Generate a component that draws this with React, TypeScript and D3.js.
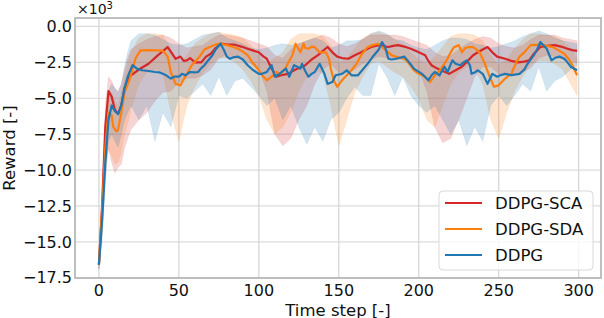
import React from "react"
import * as d3 from "d3"

// reward in units of 1e3
const scaSteps = [0, 2, 4, 6, 8, 10, 12, 14, 16, 19, 25, 31, 37, 43, 48, 51, 53, 55, 57, 60, 64, 67, 70, 73, 76, 80, 85, 89, 93, 97, 100, 103, 105, 108, 111, 114, 118, 123, 129, 133, 137, 140, 143, 146, 149, 152, 156, 160, 164, 168, 171, 175, 177, 181, 184, 187, 191, 195, 199, 204, 206, 208, 211, 214, 219, 223, 227, 231, 234, 237, 240, 243, 246, 249, 254, 258, 262, 266, 269, 272, 276, 280, 285, 289, 293, 296, 299]
const scaReward = [-16.6, -12.5, -7.0, -4.5, -4.9, -5.8, -6.1, -5.5, -4.3, -3.5, -3.0, -2.6, -2.0, -1.44, -2.25, -2.1, -2.4, -2.36, -2.2, -2.5, -2.5, -2.1, -1.9, -1.5, -1.2, -1.25, -1.27, -1.4, -1.55, -1.7, -1.8, -2.1, -2.25, -2.94, -3.5, -3.4, -3.3, -3.0, -2.7, -2.3, -2.0, -1.7, -1.43, -1.8, -2.1, -2.2, -2.25, -2.0, -1.8, -1.55, -1.4, -1.3, -1.35, -1.43, -1.35, -1.3, -1.4, -1.55, -1.75, -2.0, -2.4, -2.7, -2.9, -3.05, -3.3, -3.05, -2.8, -2.36, -2.0, -1.8, -1.6, -1.43, -1.8, -2.1, -2.25, -2.4, -2.5, -2.45, -2.36, -1.9, -1.43, -1.35, -1.3, -1.4, -1.55, -1.65, -1.7]

const sdaSteps = [0, 2, 4, 6, 8, 9, 11, 12, 14, 16, 19, 21, 23, 26, 30, 35, 39, 41, 43, 45, 48, 51, 54, 58, 63, 66, 69, 73, 76, 80, 83, 87, 90, 93, 96, 100, 102, 105, 108, 111, 113, 116, 118, 121, 123, 125, 126, 128, 129, 131, 133, 135, 138, 142, 144, 145, 147, 149, 152, 155, 158, 161, 164, 166, 168, 171, 175, 177, 180, 183, 187, 191, 194, 197, 200, 204, 207, 210, 212, 214, 216, 218, 220, 222, 225, 227, 229, 231, 234, 236, 238, 241, 244, 247, 250, 254, 258, 259, 261, 263, 266, 270, 276, 284, 288, 291, 294, 296, 299]
const sdaReward = [-16.6, -12.8, -8.5, -6.0, -6.2, -7.0, -7.3, -7.2, -6.0, -4.6, -3.75, -3.0, -2.2, -1.67, -1.65, -1.67, -1.67, -1.8, -2.1, -3.2, -4.0, -4.1, -3.5, -2.7, -2.1, -1.6, -1.44, -1.25, -1.2, -1.3, -1.4, -1.55, -1.75, -2.0, -2.5, -3.05, -3.4, -3.75, -3.5, -3.17, -3.3, -3.05, -2.6, -2.0, -1.2, -1.6, -1.8, -1.2, -1.5, -1.55, -1.4, -1.44, -1.8, -1.8, -2.3, -2.94, -3.8, -4.2, -3.75, -3.4, -3.05, -2.6, -2.0, -1.7, -1.44, -1.3, -1.2, -1.44, -1.7, -2.0, -2.15, -2.25, -2.6, -3.05, -3.3, -3.5, -3.87, -3.4, -3.2, -2.94, -2.6, -2.25, -1.8, -1.44, -1.3, -1.8, -1.5, -1.44, -1.44, -1.6, -1.8, -2.5, -3.4, -4.2, -4.1, -3.63, -3.3, -3.0, -2.5, -2.1, -1.8, -1.3, -1.27, -1.44, -1.7, -1.9, -2.3, -2.7, -3.4]

const ddpgSteps = [0, 2, 4, 6, 8, 10, 12, 14, 16, 18, 21, 24, 27, 31, 35, 38, 40, 42, 45, 47, 50, 52, 54, 57, 60, 62, 64, 66, 68, 71, 73, 76, 78, 80, 82, 84, 87, 90, 93, 96, 100, 102, 105, 108, 110, 113, 115, 117, 119, 122, 124, 126, 127, 129, 131, 133, 135, 138, 141, 143, 146, 148, 152, 155, 158, 162, 165, 168, 172, 175, 177, 179, 181, 183, 186, 191, 194, 197, 202, 206, 208, 210, 213, 216, 218, 221, 223, 226, 228, 230, 232, 233, 235, 237, 240, 243, 246, 249, 251, 254, 258, 260, 263, 266, 268, 272, 274, 276, 280, 283, 285, 288, 291, 293, 295, 299]
const ddpgReward = [-16.6, -13.5, -9.5, -6.5, -5.5, -5.9, -6.1, -5.5, -4.3, -3.5, -2.7, -2.95, -3.05, -3.1, -3.17, -3.2, -3.3, -3.4, -3.63, -3.5, -3.5, -3.3, -3.4, -3.17, -3.2, -3.17, -2.9, -2.7, -2.4, -2.0, -1.6, -1.2, -1.6, -2.1, -2.25, -2.15, -2.1, -2.3, -2.7, -3.0, -3.3, -3.3, -3.17, -2.7, -3.5, -3.3, -3.1, -2.94, -3.5, -2.7, -2.8, -2.94, -2.6, -3.1, -3.5, -3.3, -3.17, -2.6, -3.3, -4.0, -3.87, -3.4, -3.3, -3.05, -3.4, -3.4, -3.0, -2.6, -2.0, -1.6, -1.09, -1.44, -2.25, -2.3, -2.25, -2.1, -2.5, -2.94, -3.3, -3.75, -3.4, -3.17, -3.4, -2.8, -3.17, -2.36, -2.6, -2.7, -2.5, -2.36, -2.7, -3.3, -3.2, -3.05, -3.3, -4.0, -3.3, -3.5, -3.4, -3.3, -3.4, -3.35, -3.3, -3.0, -2.6, -2.0, -1.6, -1.09, -1.55, -2.36, -2.2, -2.1, -2.25, -2.5, -2.8, -3.05]

// spread bands (upper / lower envelope)
const bandSteps = [0, 2, 4, 6, 8, 10, 12, 14, 16, 18, 20, 25, 30, 35, 40, 45, 50, 55, 60, 65, 70, 75, 80, 85, 90, 95, 100, 105, 110, 115, 120, 125, 130, 135, 140, 145, 150, 155, 160, 165, 170, 175, 180, 185, 190, 195, 200, 205, 210, 215, 220, 225, 230, 235, 240, 245, 250, 255, 260, 265, 270, 275, 280, 285, 290, 295, 299]
const scaUpper = [-16.3, -11.5, -5.5, -3.5, -3.8, -4.3, -4.5, -4.0, -3.0, -2.2, -1.6, -1.2, -0.9, -0.7, -0.6, -0.8, -1.2, -1.5, -1.4, -1.3, -0.9, -0.6, -0.6, -0.7, -0.8, -1.0, -1.2, -1.4, -2.0, -2.2, -1.6, -1.2, -1.0, -0.8, -0.6, -0.8, -1.2, -1.4, -1.2, -0.9, -0.6, -0.6, -0.6, -0.6, -0.7, -0.9, -1.1, -1.3, -1.8, -2.1, -2.0, -1.6, -1.2, -0.9, -0.7, -0.8, -1.2, -1.4, -1.5, -1.3, -0.9, -0.6, -0.6, -0.6, -0.8, -0.9, -1.0]
const scaLower = [-16.9, -14.0, -9.5, -8.5, -9.5, -10.2, -9.8, -9.6, -8.5, -7.8, -7.2, -6.5, -6.0, -5.2, -4.6, -4.5, -3.9, -3.6, -3.6, -3.4, -3.0, -2.2, -2.0, -2.2, -2.3, -2.6, -3.0, -4.5, -7.5, -8.3, -7.8, -6.5, -5.5, -4.0, -3.0, -2.6, -3.2, -3.2, -3.0, -2.6, -2.3, -2.1, -2.2, -2.2, -2.3, -2.6, -3.0, -4.5, -7.0, -8.1, -7.8, -6.5, -5.0, -3.5, -2.8, -2.8, -3.3, -3.4, -3.3, -3.2, -2.9, -2.2, -2.0, -2.1, -2.3, -2.5, -2.5]
const sdaUpper = [-16.3, -11.5, -6.5, -4.5, -4.6, -5.2, -5.5, -4.6, -3.5, -2.5, -1.8, -0.8, -0.5, -0.5, -0.6, -1.5, -2.6, -2.0, -1.2, -0.8, -0.5, -0.4, -0.5, -0.6, -0.8, -1.3, -2.0, -2.6, -2.2, -1.8, -0.9, -0.5, -0.5, -0.5, -0.7, -1.3, -2.6, -2.2, -1.5, -0.8, -0.5, -0.4, -0.6, -0.9, -1.2, -1.8, -2.3, -2.6, -2.1, -1.4, -0.7, -0.5, -0.5, -0.6, -1.0, -2.0, -2.7, -2.3, -1.5, -0.9, -0.5, -0.5, -0.6, -0.7, -1.0, -1.5, -2.2]
const sdaLower = [-16.9, -14.5, -10.5, -8.5, -9.0, -9.6, -9.5, -8.8, -7.5, -6.8, -5.8, -4.0, -3.2, -3.0, -3.3, -6.0, -8.0, -5.5, -4.2, -3.2, -2.6, -2.2, -2.2, -2.5, -3.0, -3.8, -4.8, -6.5, -7.5, -7.0, -6.0, -4.5, -3.5, -3.0, -3.3, -5.5, -8.3, -6.5, -4.6, -3.5, -2.6, -2.4, -2.8, -3.2, -3.5, -4.2, -5.0, -6.5, -7.0, -5.5, -4.0, -3.2, -2.8, -3.0, -4.0, -6.5, -7.8, -6.0, -4.5, -3.5, -2.6, -2.4, -2.4, -2.6, -3.0, -4.0, -4.8]
const ddpgUpper = [-16.3, -12.5, -7.0, -4.5, -4.0, -4.3, -4.6, -4.0, -2.8, -1.8, -1.0, -0.5, -0.5, -0.6, -0.9, -1.2, -1.3, -1.2, -0.9, -0.6, -0.5, -0.4, -0.8, -1.0, -1.2, -1.5, -1.6, -1.5, -1.3, -1.2, -1.3, -1.2, -1.0, -0.8, -1.0, -1.5, -1.3, -1.0, -1.0, -0.9, -0.5, -0.3, -0.5, -0.9, -1.0, -1.3, -1.5, -1.6, -1.3, -1.0, -0.8, -0.8, -0.9, -1.2, -1.3, -1.5, -1.4, -1.2, -1.0, -0.7, -0.5, -0.3, -0.5, -0.8, -1.0, -1.1, -1.2]
const ddpgLower = [-16.9, -15.0, -11.0, -8.0, -7.5, -8.0, -8.4, -7.5, -6.5, -6.0, -5.5, -6.5, -5.5, -8.0, -6.0, -7.0, -4.8, -5.0, -4.5, -4.0, -4.8, -3.5, -4.8, -3.8, -3.6, -4.2, -4.8, -5.5, -5.0, -6.5, -5.5, -7.0, -8.2, -7.0, -8.0, -6.5, -6.0, -5.0, -4.2, -4.8, -4.8, -2.6, -3.5, -4.8, -3.5, -4.8, -5.5, -6.0, -5.5, -6.5, -7.5, -6.5, -8.3, -7.0, -8.0, -5.5, -4.8, -5.5, -4.8, -4.0, -4.5, -2.8, -4.5, -3.8, -3.5, -3.0, -2.7]

const yTicks = [-17.5, -15, -12.5, -10, -7.5, -5, -2.5, 0]
const xTicks = [0, 50, 100, 150, 200, 250, 300]

const series = [
	{ name: "DDPG-SCA", color: "#d62728", steps: scaSteps, values: scaReward, upper: scaUpper, lower: scaLower },
	{ name: "DDPG-SDA", color: "#ff7f0e", steps: sdaSteps, values: sdaReward, upper: sdaUpper, lower: sdaLower },
	{ name: "DDPG", color: "#1f77b4", steps: ddpgSteps, values: ddpgReward, upper: ddpgUpper, lower: ddpgLower },
]

const W = 604
const H = 318
const margin = { top: 18, right: 3, bottom: 40, left: 75 }
const font = "DejaVu Sans, sans-serif"

const App: React.FC = () => {
	const x = d3.scaleLinear().domain([-14.95, 313.95]).range([margin.left, W - margin.right])
	const y = d3.scaleLinear().domain([-17.52, 0.59]).range([H - margin.bottom, margin.top])

	const band = (s: typeof series[0]) =>
		d3
			.area<number>()
			.x((d) => x(d))
			.y0((d, i) => y(s.lower[i]))
			.y1((d, i) => y(s.upper[i]))(bandSteps) || ""

	const line = (s: typeof series[0]) =>
		d3
			.line<number>()
			.x((d) => x(d))
			.y((d, i) => y(s.values[i]))(s.steps) || ""

	const left = margin.left
	const right = W - margin.right
	const top = margin.top
	const bottom = H - margin.bottom

	return (
		<svg width={W} height={H} style={{ position: "absolute", left: 0, top: 0 }} fontFamily={font}>
			<rect width={W} height={H} fill="#fff" />
			{/* grid */}
			{yTicks.map((t) => (
				<line key={"gy" + t} x1={left} x2={right} y1={y(t)} y2={y(t)} stroke="#dcdcdc" strokeWidth={1.2} />
			))}
			{xTicks.map((t) => (
				<line key={"gx" + t} x1={x(t)} x2={x(t)} y1={top} y2={bottom} stroke="#d4d4d4" strokeWidth={1.2} />
			))}

			{series.map((s) => (
				<path key={"b" + s.name} d={band(s)} fill={s.color} fillOpacity={0.2} stroke={s.color} strokeOpacity={0.08} />
			))}
			{series.map((s) => (
				<path key={"l" + s.name} d={line(s)} fill="none" stroke={s.color} strokeWidth={2.2} strokeLinejoin="round" />
			))}

			{/* spines */}
			<rect x={left} y={top} width={right - left} height={bottom - top} fill="none" stroke="#b8b8b8" strokeWidth={1.8} />

			{/* tick labels */}
			{yTicks.map((t) => (
				<text key={"ty" + t} x={left - 3} y={y(t)} dy="0.36em" textAnchor="end" fontSize={16} fill="#111">
					{t.toFixed(1).replace("-", "\u2212")}
				</text>
			))}
			{xTicks.map((t) => (
				<text key={"tx" + t} x={x(t)} y={296} textAnchor="middle" fontSize={16} fill="#111">
					{t}
				</text>
			))}
			<text x={77} y={14} fontSize={14} fill="#111">
				×10<tspan fontSize={10} dy={-5}>3</tspan>
			</text>

			{/* axis labels */}
			<text x={(left + right) / 2} y={315.5} textAnchor="middle" fontSize={16.5} fill="#111">
				Time step [-]
			</text>
			<text transform={`translate(15,${(top + bottom) / 2}) rotate(-90)`} textAnchor="middle" fontSize={16.5} fill="#111">
				Reward [-]
			</text>

			{/* legend */}
			<g>
				<rect x={439} y={191} width={154} height={79} rx={4} fill="#fff" fillOpacity={0.8} stroke="#d9d9d9" strokeWidth={1} />
				{series.map((s, i) => (
					<g key={"lg" + s.name} transform={`translate(0,${203 + i * 26})`}>
						<line x1={445} x2={482} y1={0} y2={0} stroke={s.color} strokeWidth={2.2} />
						<text x={495} y={0} dy="0.36em" fontSize={16.5} fill="#111">
							{s.name}
						</text>
					</g>
				))}
			</g>
		</svg>
	)
}

export default App
